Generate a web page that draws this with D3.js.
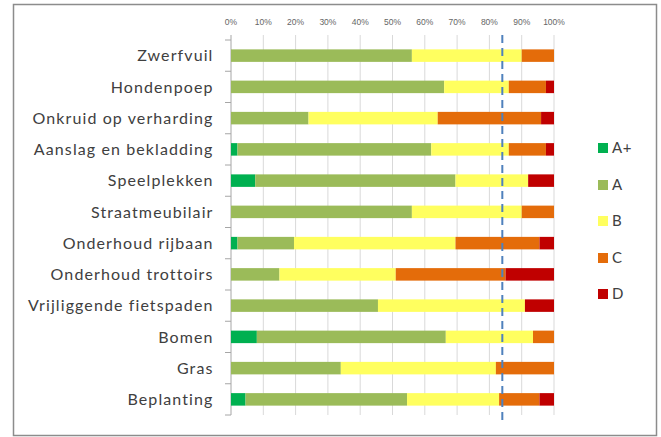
<!DOCTYPE html>
<html>
<head>
<meta charset="utf-8">
<script src="https://cdn.jsdelivr.net/npm/d3@7"></script>
<style>
  body { margin: 0; background: #fff; }
  svg { display: block; }
</style>
</head>
<body>
<svg id="chart" width="661" height="437"></svg>
<script>
// categories, top to bottom
var categories = ['Zwerfvuil', 'Hondenpoep', 'Onkruid op verharding', 'Aanslag en bekladding',
  'Speelplekken', 'Straatmeubilair', 'Onderhoud rijbaan', 'Onderhoud trottoirs',
  'Vrijliggende fietspaden', 'Bomen', 'Gras', 'Beplanting'];

// shares per grade (percent)
var gradeAplus = [0, 0, 0, 2, 7.5, 0, 2, 0, 0, 8, 0, 4.5];
var gradeA     = [56, 66, 24, 60, 62, 56, 17.5, 15, 45.5, 58.5, 34, 50];
var gradeB     = [34, 20, 40, 24, 22.5, 34, 50, 36, 45.5, 27, 48, 28.5];
var gradeC     = [10, 11.5, 32, 11.5, 0, 10, 26, 34, 0, 6.5, 18, 12.5];
var gradeD     = [0, 2.5, 4, 2.5, 8, 0, 4.5, 15, 9, 0, 0, 4.5];

var grades = ['A+', 'A', 'B', 'C', 'D'];
var gradeColors = ['#00b050', '#9bbb59', '#ffff5f', '#e46c0a', '#c00000'];
var xTicks = [0, 10, 20, 30, 40, 50, 60, 70, 80, 90, 100];
var norm = 84; // dashed reference line

var svg = d3.select('#chart');

// outer frame
svg.append('rect')
  .attr('x', 13.5).attr('y', 4.5)
  .attr('width', 643).attr('height', 431)
  .attr('fill', 'none')
  .attr('stroke', '#8c8c8c')
  .attr('stroke-width', 1.5);

// note: "top" is taken by window.top, so use plot* names
var plotLeft = 231, plotRight = 554, plotTop = 40, plotBottom = 415;

var x = d3.scaleLinear().domain([0, 100]).range([plotLeft, plotRight]);
var y = d3.scaleBand().domain(categories).range([plotTop, plotBottom]).paddingInner(0.6).paddingOuter(0.3);

// gridlines
svg.append('g').selectAll('line')
  .data(xTicks)
  .enter().append('line')
  .attr('x1', function (d) { return x(d); })
  .attr('x2', function (d) { return x(d); })
  .attr('y1', 35).attr('y2', plotBottom)
  .attr('stroke', function (d) { return d === 0 ? '#a6a6a6' : '#d9d9d9'; })
  .attr('stroke-width', 1);

// top tick labels
svg.append('g').selectAll('text')
  .data(xTicks)
  .enter().append('text')
  .attr('x', function (d) { return x(d); })
  .attr('y', 24.5)
  .attr('text-anchor', 'middle')
  .attr('font-family', 'Liberation Sans, Arial, sans-serif')
  .attr('font-size', 8.5)
  .attr('fill', '#666')
  .text(function (d) { return d + '%'; });

// left axis ticks at band edges
var step = y.step();
var edges = d3.range(categories.length + 1).map(function (i) { return plotTop + i * step; });
svg.append('g').selectAll('line')
  .data(edges)
  .enter().append('line')
  .attr('x1', plotLeft - 6).attr('x2', plotLeft)
  .attr('y1', function (d) { return d; })
  .attr('y2', function (d) { return d; })
  .attr('stroke', '#a6a6a6');

// stacked bars
var table = categories.map(function (c, i) {
  return {cat: c, 'A+': gradeAplus[i], A: gradeA[i], B: gradeB[i], C: gradeC[i], D: gradeD[i]};
});
var series = d3.stack().keys(grades)(table);

svg.append('g').selectAll('g')
  .data(series)
  .enter().append('g')
  .attr('fill', function (d, i) { return gradeColors[i]; })
  .selectAll('rect')
  .data(function (d) { return d; })
  .enter().append('rect')
  .attr('x', function (d) { return x(d[0]); })
  .attr('y', function (d) { return y(d.data.cat); })
  .attr('width', function (d) { return x(d[1]) - x(d[0]); })
  .attr('height', y.bandwidth());

// category labels
svg.append('g').selectAll('text')
  .data(categories)
  .enter().append('text')
  .attr('x', 213.5)
  .attr('y', function (d) { return y(d) + y.bandwidth() / 2; })
  .attr('dy', '0.36em')
  .attr('text-anchor', 'end')
  .attr('font-family', 'Lato, sans-serif')
  .attr('font-size', 16)
  .attr('letter-spacing', 1.1)
  .attr('fill', '#404040')
  .text(function (d) { return d; });

// dashed norm line
svg.append('line')
  .attr('x1', x(norm)).attr('x2', x(norm))
  .attr('y1', 35).attr('y2', 425)
  .attr('stroke', '#4f81bd')
  .attr('stroke-width', 2)
  .attr('stroke-dasharray', '8,5');

// legend
var legendY = [148, 185, 221, 258, 294];
var legend = svg.append('g').selectAll('g')
  .data(grades)
  .enter().append('g')
  .attr('transform', function (d, i) { return 'translate(598,' + legendY[i] + ')'; });
legend.append('rect')
  .attr('x', 0).attr('y', -5)
  .attr('width', 10).attr('height', 10)
  .attr('fill', function (d, i) { return gradeColors[i]; });
legend.append('text')
  .attr('x', 14).attr('y', 0)
  .attr('dy', '0.36em')
  .attr('font-family', 'Lato, sans-serif')
  .attr('font-size', 15)
  .attr('letter-spacing', 0.5)
  .attr('fill', '#404040')
  .text(function (d) { return d; });
</script>
</body>
</html>
